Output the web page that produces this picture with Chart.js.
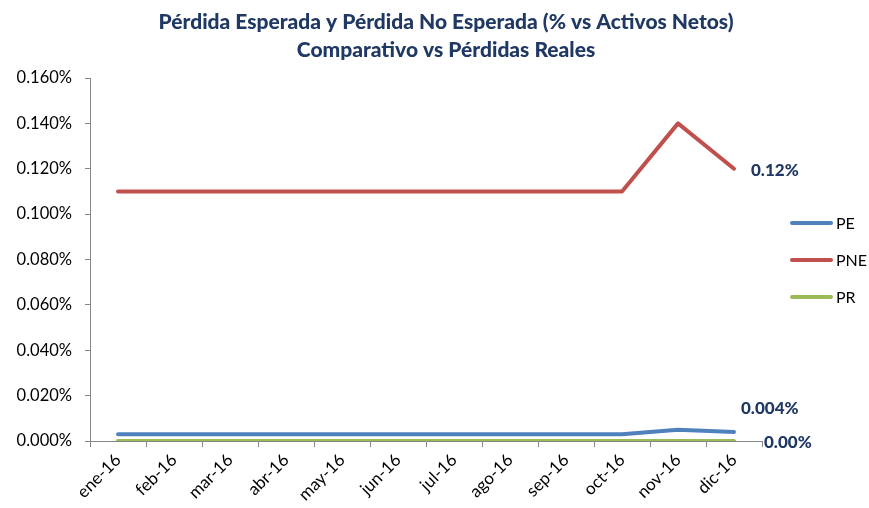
<!DOCTYPE html>
<html>
<head>
<meta charset="utf-8">
<script src="https://cdn.jsdelivr.net/npm/chart.js@4.4.0/dist/chart.umd.min.js"></script>
<style>
  html, body { margin: 0; padding: 0; background: #fff; }
  #wrap { width: 869px; height: 508px; }
</style>
</head>
<body>
<div id="wrap"><canvas id="myChart" width="869" height="508"></canvas></div>
<script>
"use strict";

// data (values in %)
const months = ["ene-16", "feb-16", "mar-16", "abr-16", "may-16", "jun-16",
    "jul-16", "ago-16", "sep-16", "oct-16", "nov-16", "dic-16"];
const pe = [0.003, 0.003, 0.003, 0.003, 0.003, 0.003, 0.003, 0.003, 0.003, 0.003, 0.005, 0.004];
const pne = [0.11, 0.11, 0.11, 0.11, 0.11, 0.11, 0.11, 0.11, 0.11, 0.11, 0.14, 0.12];
const pr = [0, 0, 0, 0, 0, 0, 0, 0, 0, 0, 0, 0];
const seriesNames = ["PE", "PNE", "PR"];
const endLabels = ["0.004%", "0.12%", "0.00%"];
const titleLines = [
    "Pérdida Esperada y Pérdida No Esperada (% vs Activos Netos)",
    "Comparativo vs Pérdidas Reales"
];

const FONT = "Lato, 'Open Sans', sans-serif";
const NAVY = "#1F3864";
const colors = ["#4F81BD", "#C0504D", "#9BBB59"];

// title, end labels and legend drawn by hand
const extras = {
    id: "extras",
    afterDraw(chart) {
        const ctx = chart.ctx;
        const x = chart.scales.x;
        const y = chart.scales.y;
        ctx.save();

        ctx.fillStyle = NAVY;
        ctx.font = "900 21px " + FONT;
        ctx.textAlign = "center";
        ctx.textBaseline = "middle";
        ctx.fillText(titleLines[0], 446, 22);
        ctx.fillText(titleLines[1], 446, 50);

        // labels at the last point
        const last = months.length - 1;
        const px = x.getPixelForValue(last);
        ctx.font = "900 17px " + FONT;
        ctx.textAlign = "left";
        ctx.fillText(endLabels[1], px + 17, y.getPixelForValue(pne[last]) + 2);
        ctx.fillText(endLabels[0], px + 7, y.getPixelForValue(pe[last]) - 23);
        ctx.fillText(endLabels[2], x.right + 2, y.getPixelForValue(pr[last]) + 2);

        // legend
        const rows = [223, 260, 297];
        ctx.font = "16px " + FONT;
        ctx.lineCap = "round";
        for (let i = 0; i < seriesNames.length; i++) {
            ctx.strokeStyle = colors[i];
            ctx.lineWidth = 4;
            ctx.beginPath();
            ctx.moveTo(792, rows[i]);
            ctx.lineTo(831, rows[i]);
            ctx.stroke();
            ctx.fillStyle = "#000";
            ctx.fillText(seriesNames[i], 836, rows[i] + 1);
        }
        ctx.restore();
    }
};

const ctx = document.getElementById("myChart").getContext("2d");
const chart = new Chart(ctx, {
    type: "line",
    data: {
        labels: months,
        datasets: [
            { label: seriesNames[0], data: pe, borderColor: colors[0], backgroundColor: colors[0] },
            { label: seriesNames[1], data: pne, borderColor: colors[1], backgroundColor: colors[1] },
            { label: seriesNames[2], data: pr, borderColor: colors[2], backgroundColor: colors[2] }
        ]
    },
    options: {
        responsive: false,
        animation: false,
        layout: { padding: { top: 78, right: 107, left: 0, bottom: 0 } },
        elements: {
            line: { borderWidth: 4, tension: 0, borderCapStyle: "round", borderJoinStyle: "round" },
            point: { radius: 0 }
        },
        plugins: {
            legend: { display: false },
            title: { display: false },
            tooltip: { enabled: false }
        },
        scales: {
            x: {
                offset: true,
                grid: { offset: true, drawOnChartArea: false, tickLength: 6, color: "#868686" },
                border: { color: "#868686", width: 1 },
                ticks: {
                    minRotation: 45,
                    maxRotation: 45,
                    autoSkip: false,
                    padding: 3,
                    color: "#000",
                    font: { family: FONT, size: 17 }
                },
                afterFit(scale) { scale.height = 67; }
            },
            y: {
                min: 0,
                max: 0.16,
                grid: { drawOnChartArea: false, tickLength: 5, color: "#868686" },
                border: { color: "#868686", width: 1 },
                ticks: {
                    stepSize: 0.02,
                    padding: 13,
                    color: "#000",
                    font: { family: FONT, size: 16.5 },
                    callback: v => v.toFixed(3) + "%"
                },
                afterFit(scale) { scale.width = 90; }
            }
        }
    },
    plugins: [extras]
});
</script>
</body>
</html>
